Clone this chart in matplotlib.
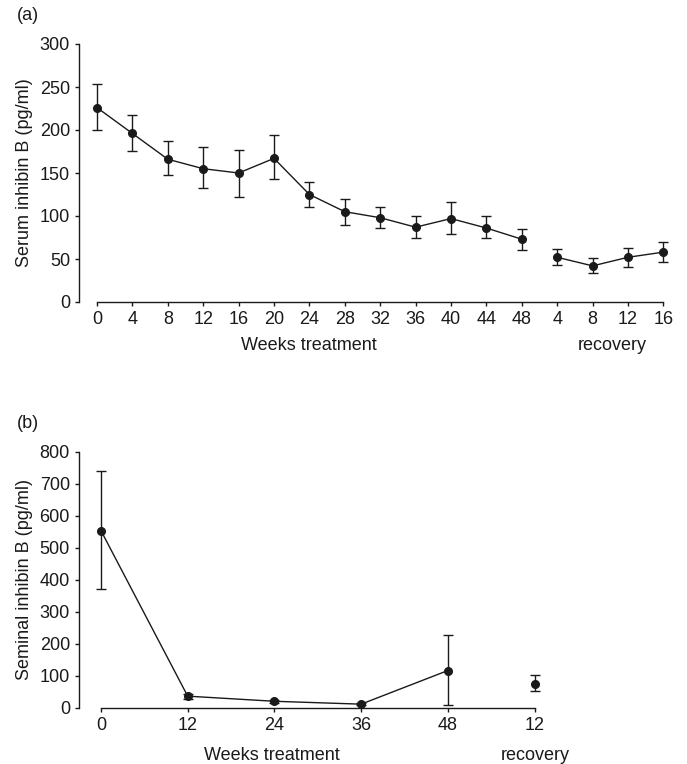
import numpy as np
import matplotlib
matplotlib.use("Agg")
import matplotlib.pyplot as plt

plt.rcParams['font.family'] = ['Liberation Sans', 'DejaVu Sans']
FS = 13

# (a) serum inhibin B
serum_labels = ['0', '4', '8', '12', '16', '20', '24', '28', '32', '36', '40', '44', '48',
                '4', '8', '12', '16']
serum_mean = [226, 196, 166, 155, 150, 167, 125, 105, 98, 87, 97, 86, 73, 52, 42, 52, 58]
serum_hi = [253, 217, 187, 180, 177, 194, 140, 120, 110, 100, 116, 100, 85, 62, 51, 63, 70]
serum_lo = [200, 176, 148, 133, 122, 143, 111, 90, 86, 75, 79, 74, 61, 43, 34, 41, 46]
serum_n_treat = 13   # first 13 points are the treatment weeks

# (b) seminal inhibin B
sem_labels = ['0', '12', '24', '36', '48', '12']
sem_mean = [554, 37, 21, 12, 117, 75]
sem_hi = [741, 45, 26, 16, 229, 103]
sem_lo = [372, 29, 16, 8, 9, 52]
sem_n_treat = 5

col = '#1a1a1a'
W, H = 687, 764
fig = plt.figure(figsize=(W / 100, H / 100), dpi=100)


def px(x0, y0, x1, y1):
    return [x0 / W, 1 - y1 / H, (x1 - x0) / W, (y1 - y0) / H]


def panel(ax, mean, lo, hi, labels, n_treat, ymax, ystep):
    x = np.arange(len(mean))
    mean = np.array(mean)
    yerr = [mean - np.array(lo), np.array(hi) - mean]
    ax.errorbar(x, mean, yerr=yerr, fmt='none', ecolor=col, elinewidth=1.0,
                capsize=3.6, capthick=1.0)
    ax.plot(x[:n_treat], mean[:n_treat], '-', color=col, lw=1.0)
    ax.plot(x[n_treat:], mean[n_treat:], '-', color=col, lw=1.0)
    ax.plot(x, mean, 'o', color=col, ms=5.5)
    ax.set_xticks(x)
    ax.set_xticklabels(labels)
    ax.set_yticks(np.arange(0, ymax + 1, ystep))
    ax.set_ylim(0, ymax)
    for s in ['top', 'right']:
        ax.spines[s].set_visible(False)
    ax.spines['left'].set_bounds(0, ymax)
    ax.spines['bottom'].set_bounds(0, len(mean) - 1)
    for s in ['left', 'bottom']:
        ax.spines[s].set_linewidth(1.0)
        ax.spines[s].set_color(col)
    ax.tick_params(length=3, width=1.0, color=col, labelsize=FS, pad=3.5,
                   labelcolor=col)
    for a in ax.get_children():
        try:
            a.set_clip_on(False)
        except Exception:
            pass


# panel (a)
ax1 = fig.add_axes(px(79, 44, 680, 302))
panel(ax1, serum_mean, serum_lo, serum_hi, serum_labels, serum_n_treat, 300, 50)
ax1.set_xlim(-(97 - 79) / 35.4, (680 - 97) / 35.4)

# panel (b)
ax2 = fig.add_axes(px(79, 452, 680, 708))
panel(ax2, sem_mean, sem_lo, sem_hi, sem_labels, sem_n_treat, 800, 100)
ax2.set_xlim(-(101 - 79) / 86.7, (680 - 101) / 86.7)

fig.text(17 / W, 1 - 15 / H, '(a)', fontsize=FS, color=col, va='center', ha='left')
fig.text(17 / W, 1 - 423 / H, '(b)', fontsize=FS, color=col, va='center', ha='left')
fig.text(24.5 / W, 1 - 173 / H, 'Serum inhibin B (pg/ml)', rotation=90, fontsize=FS,
         color=col, ha='center', va='center')
fig.text(24.5 / W, 1 - 580 / H, 'Seminal inhibin B (pg/ml)', rotation=90, fontsize=FS,
         color=col, ha='center', va='center')
fig.text(309 / W, 1 - 345 / H, 'Weeks treatment', fontsize=FS, color=col,
         ha='center', va='center')
fig.text(612 / W, 1 - 345 / H, 'recovery', fontsize=FS, color=col,
         ha='center', va='center')
fig.text(272 / W, 1 - 755 / H, 'Weeks treatment', fontsize=FS, color=col,
         ha='center', va='center')
fig.text(535 / W, 1 - 755 / H, 'recovery', fontsize=FS, color=col,
         ha='center', va='center')

fig.savefig('out.png', dpi=100, facecolor='white')
